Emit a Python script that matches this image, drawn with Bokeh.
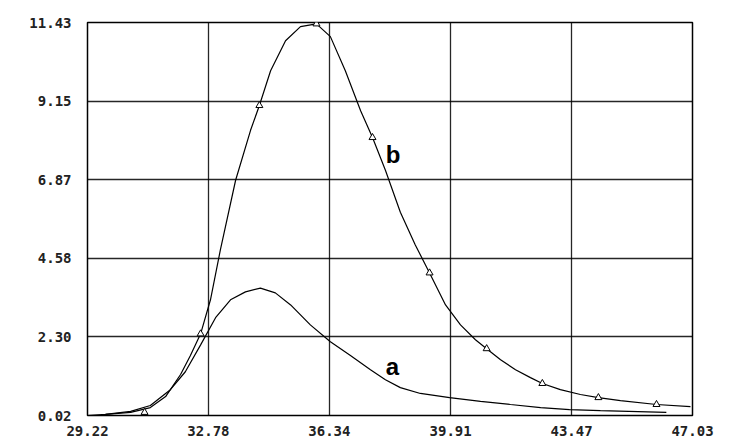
from bokeh.plotting import figure
from bokeh.models import FixedTicker, Range1d
from bokeh.embed import file_html
from bokeh.resources import INLINE

# curve b
bx = [29.22, 29.75, 30.49, 31.07, 31.52, 31.96, 32.25, 32.55, 32.84, 33.13, 33.58, 34.02, 34.28,
      34.61, 35.05, 35.49, 35.96, 36.37, 36.81, 37.26, 37.61, 37.99, 38.43, 38.87, 39.29, 39.76,
      40.2, 40.64, 40.97, 41.38, 41.82, 42.26, 42.61, 43.14, 43.73, 44.26, 44.91, 45.97, 46.97]
by = [0.02, 0.05, 0.11, 0.25, 0.57, 1.21, 1.76, 2.39, 3.38, 4.82, 6.85, 8.3, 9.02,
      10.03, 10.9, 11.31, 11.39, 11.02, 10.03, 8.87, 8.09, 7.14, 5.92, 4.97, 4.16, 3.23,
      2.65, 2.22, 1.96, 1.64, 1.35, 1.12, 0.95, 0.77, 0.63, 0.54, 0.45, 0.34, 0.28]

# triangle markers on curve b
mx = [29.12, 30.9, 32.55, 34.28, 35.96, 37.61, 39.29, 40.97, 42.61, 44.26, 45.97]
my = [0.05, 0.11, 2.39, 9.02, 11.39, 8.09, 4.16, 1.96, 0.95, 0.54, 0.34]

# curve a
ax_ = [29.75, 30.49, 31.07, 31.66, 32.1, 32.55, 32.99, 33.43, 33.87, 34.31, 34.75, 35.2, 35.78,
       36.37, 36.96, 37.55, 37.99, 38.43, 39.02, 39.88, 40.79, 41.67, 42.56, 43.41, 44.32, 46.26]
ay = [0.05, 0.14, 0.31, 0.77, 1.29, 2.07, 2.86, 3.38, 3.61, 3.72, 3.58, 3.23, 2.65,
      2.16, 1.76, 1.35, 1.06, 0.83, 0.66, 0.54, 0.43, 0.34, 0.25, 0.19, 0.16, 0.11]

xticks = [29.22, 32.78, 36.34, 39.91, 43.47, 47.03]
yticks = [0.02, 2.30, 4.58, 6.87, 9.15, 11.43]
ylabels = ["0.02", "2.30", "4.58", "6.87", "9.15", "11.43"]

p = figure(width=723, height=438, output_backend="svg", toolbar_location=None,
           x_range=Range1d(29.22, 47.03), y_range=Range1d(0.02, 11.43),
           min_border_left=87, min_border_right=31, min_border_top=22, min_border_bottom=22)
p.outline_line_color = "black"
p.outline_line_width = 1.5

for ax, ticks, labels in [(p.xaxis[0], xticks, [f"{t:.2f}" for t in xticks]),
                          (p.yaxis[0], yticks, ylabels)]:
    ax.ticker = FixedTicker(ticks=ticks)
    ax.major_label_overrides = {t: l for t, l in zip(ticks, labels)}
    ax.axis_line_color = None
    ax.major_tick_line_color = None
    ax.minor_tick_line_color = None
    ax.major_label_text_font = "DejaVu Sans Mono"
    ax.major_label_text_font_style = "bold"
    ax.major_label_text_font_size = "14px"
    ax.major_label_text_color = "#222222"
p.xaxis.major_label_standoff = 4
p.yaxis.major_label_standoff = 10

p.xgrid.ticker = FixedTicker(ticks=xticks)
p.ygrid.ticker = FixedTicker(ticks=yticks)
for g in (p.xgrid, p.ygrid):
    g.grid_line_color = "black"
    g.grid_line_width = 1.3
    g.grid_line_alpha = 0.85

p.line(bx, by, line_color="black", line_width=1.2)
p.line(ax_, ay, line_color="black", line_width=1.2)
p.scatter(mx, my, marker="triangle", size=7, fill_color="white", line_color="black")

p.text([38.0], [7.6], text=["b"], text_font_size="24px", text_font_style="bold",
       text_baseline="middle")
p.text([38.0], [1.45], text=["a"], text_font_size="24px", text_font_style="bold",
       text_baseline="middle")

open("out.html", "w").write(file_html(p, INLINE))
